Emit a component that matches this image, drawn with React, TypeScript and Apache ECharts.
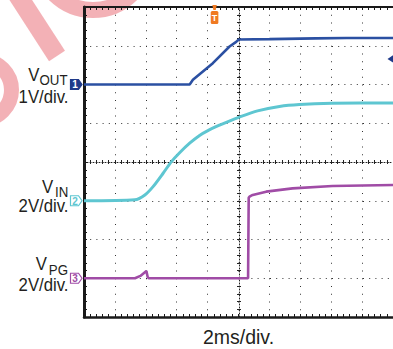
import React, { useEffect, useRef } from "react";
import * as echarts from "echarts";

// Time base: 2 ms/div, 10 divisions
const T_MIN_MS = 0;
const T_MAX_MS = 20;
const T_DIV_MS = 2;
// Vertical: 8 divisions
const DIV_MIN = 0;
const DIV_MAX = 8;

// VOUT, 1 V/div, ground marker at division 6
const VOUT_T_MS = [0, 6.84, 7.05, 8.34, 9.42, 9.85, 10.02, 12, 15, 17, 20];
const VOUT_V = [0, 0, 0.12, 0.55, 0.98, 1.1, 1.16, 1.17, 1.19, 1.2, 1.2];
const VOUT_SCALE = 1;
const VOUT_OFFSET_DIV = 6;

// VIN, 2 V/div, ground marker at division 3
const VIN_T_MS = [0, 3.29, 3.94, 4.47, 5.12, 5.66, 6.19, 6.84, 7.48, 8.02, 8.77, 9.21, 10.06, 11.23, 12.65, 13.94, 16.06, 20];
const VIN_V = [0, 0.05, 0.3, 0.73, 1.42, 2.02, 2.48, 2.97, 3.37, 3.62, 3.9, 4.05, 4.32, 4.64, 4.87, 4.97, 5.03, 5.05];
const VIN_SCALE = 2;
const VIN_OFFSET_DIV = 3;

// VPG, 2 V/div, ground marker at division 1
const VPG_T_MS = [0, 3.3, 3.65, 4.04, 4.12, 4.2, 10.62, 10.66, 10.71, 10.92, 11.79, 13.5, 16.08, 20];
const VPG_V = [0, 0, 0.12, 0.38, 0.06, 0, 0, 4.15, 4.21, 4.3, 4.47, 4.64, 4.76, 4.81];
const VPG_SCALE = 2;
const VPG_OFFSET_DIV = 1;

const TRIGGER_TIME_MS = 8.45;
const TRIGGER_LEVEL_V = 0.66; // on VOUT

const C_VOUT = "#2b50a2";
const C_VOUT_MARK = "#1f3a8a";
const C_VIN = "#5ec6d1";
const C_VPG = "#a04ca6";
const C_TRIG = "#f07a22";
const TEXT = "#231f20";
const FONT = '"Liberation Sans", Arial, Helvetica, sans-serif';
const PINK = "rgba(226,70,82,0.42)";

const toDivs = (t: number[], v: number[], scale: number, off: number) =>
  t.map((tt, i) => [tt, off + v[i] / scale]);

const GRID = { left: 84, top: 7, width: 310, height: 310 };

const axisCommon = {
  type: "value",
  axisLabel: { show: false },
  splitLine: { show: false },
};

const xAxisBase = { ...axisCommon, min: T_MIN_MS, max: T_MAX_MS, interval: T_DIV_MS };
const yAxisBase = { ...axisCommon, min: DIV_MIN, max: DIV_MAX, interval: 1 };

const BLACK = "#1a1a1a";

const option: any = {
  animation: false,
  backgroundColor: "#ffffff",
  grid: { ...GRID, containLabel: false, show: false },
  xAxis: [
    {
      ...xAxisBase,
      position: "bottom",
      axisLine: { show: true, onZero: false, lineStyle: { color: BLACK, width: 2.5 } },
      axisTick: { show: true, inside: true, length: 3, lineStyle: { color: BLACK, width: 1 } },
      minorTick: { show: true, splitNumber: 5, length: 3, lineStyle: { color: BLACK, width: 1 } },
      splitLine: { show: true, lineStyle: { color: "#333", width: 1, type: [1, 6.75] } },
    },
    {
      ...xAxisBase,
      position: "top",
      axisLine: { show: true, onZero: false, lineStyle: { color: BLACK, width: 2 } },
      axisTick: { show: true, inside: true, length: 3, lineStyle: { color: BLACK, width: 1 } },
      minorTick: { show: true, splitNumber: 5, length: 3, lineStyle: { color: BLACK, width: 1 } },
    },
    {
      ...xAxisBase,
      position: "bottom",
      offset: -GRID.height / 2,
      axisLine: { show: true, onZero: false, lineStyle: { color: "#222", width: 1, type: [1, 2] } },
      axisTick: { show: true, inside: false, length: 2, lineStyle: { color: "#222", width: 1 } },
      minorTick: { show: true, splitNumber: 5, length: 2, lineStyle: { color: "#222", width: 1 } },
    },
    {
      ...xAxisBase,
      position: "bottom",
      offset: -GRID.height / 2,
      axisLine: { show: false, onZero: false },
      axisTick: { show: true, inside: true, length: 2, lineStyle: { color: "#222", width: 1 } },
      minorTick: { show: true, splitNumber: 5, length: 2, lineStyle: { color: "#222", width: 1 } },
    },
  ],
  yAxis: [
    {
      ...yAxisBase,
      position: "left",
      axisLine: { show: true, onZero: false, lineStyle: { color: BLACK, width: 3 } },
      axisTick: { show: true, inside: true, length: 3, lineStyle: { color: BLACK, width: 1 } },
      minorTick: { show: true, splitNumber: 5, length: 3, lineStyle: { color: BLACK, width: 1 } },
      splitLine: { show: true, lineStyle: { color: "#333", width: 1, type: [1, 5.2] } },
    },
    {
      ...yAxisBase,
      position: "left",
      offset: -GRID.width / 2,
      axisLine: { show: true, onZero: false, lineStyle: { color: "#222", width: 1, type: [1, 2] } },
      axisTick: { show: true, inside: false, length: 2, lineStyle: { color: "#222", width: 1 } },
      minorTick: { show: true, splitNumber: 5, length: 2, lineStyle: { color: "#222", width: 1 } },
    },
    {
      ...yAxisBase,
      position: "left",
      offset: -GRID.width / 2,
      axisLine: { show: false, onZero: false },
      axisTick: { show: true, inside: true, length: 2, lineStyle: { color: "#222", width: 1 } },
      minorTick: { show: true, splitNumber: 5, length: 2, lineStyle: { color: "#222", width: 1 } },
    },
  ],
  series: [
    {
      name: "VOUT",
      type: "line",
      xAxisIndex: 0,
      yAxisIndex: 0,
      data: toDivs(VOUT_T_MS, VOUT_V, VOUT_SCALE, VOUT_OFFSET_DIV),
      showSymbol: false,
      symbol: "none",
      lineStyle: { color: C_VOUT, width: 2.6 },
      z: 5,
    },
    {
      name: "VIN",
      type: "line",
      xAxisIndex: 0,
      yAxisIndex: 0,
      data: toDivs(VIN_T_MS, VIN_V, VIN_SCALE, VIN_OFFSET_DIV),
      showSymbol: false,
      symbol: "none",
      smooth: 0.25,
      lineStyle: { color: C_VIN, width: 3 },
      z: 5,
    },
    {
      name: "VPG",
      type: "line",
      xAxisIndex: 0,
      yAxisIndex: 0,
      data: toDivs(VPG_T_MS, VPG_V, VPG_SCALE, VPG_OFFSET_DIV),
      showSymbol: false,
      symbol: "none",
      lineStyle: { color: C_VPG, width: 2.6 },
      z: 5,
    },
  ],
};

function txt(text: string, x: number, y: number, size: number, align: string, sx = 1, color = TEXT) {
  return {
    type: "text",
    x,
    y,
    scaleX: sx,
    z: 50,
    style: {
      text,
      fill: color,
      fontSize: size,
      fontFamily: FONT,
      align,
      textAlign: align,
      verticalAlign: "middle",
      textVerticalAlign: "middle",
    },
  };
}

function chMarker(label: string, cy: number, color: string, filled: boolean) {
  const x0 = 70.5;
  const x1 = 78.5;
  const x2 = 82;
  const h = 5;
  return [
    {
      type: "polygon",
      z: 60,
      shape: { points: [[x0, cy - h], [x1, cy - h], [x2, cy], [x1, cy + h], [x0, cy + h]] },
      style: { fill: filled ? color : "#ffffff", stroke: color, lineWidth: 1.2 },
    },
    {
      type: "text",
      x: 75,
      y: cy + 0.3,
      z: 61,
      style: {
        text: label,
        fill: filled ? "#ffffff" : color,
        fontSize: 10,
        fontWeight: "bold",
        fontFamily: FONT,
        align: "center",
        textAlign: "center",
        verticalAlign: "middle",
        textVerticalAlign: "middle",
      },
    },
  ];
}

export default function App() {
  const ref = useRef<HTMLDivElement>(null);
  useEffect(() => {
    const chart = echarts.init(ref.current!, null, { renderer: "svg" });
    chart.setOption(option);
    const px = (t: number, d: number) => chart.convertToPixel({ seriesIndex: 0 }, [t, d]) as number[];

    const yVout = px(0, VOUT_OFFSET_DIV)[1];
    const yVin = px(0, VIN_OFFSET_DIV)[1];
    const yVpg = px(0, VPG_OFFSET_DIV)[1];
    const xTrig = px(TRIGGER_TIME_MS, 0)[0];
    const yTrigLevel = px(0, VOUT_OFFSET_DIV + TRIGGER_LEVEL_V / VOUT_SCALE)[1];
    const [xCenter] = px((T_MIN_MS + T_MAX_MS) / 2, 0);

    const graphic: any[] = [
      // watermark
      { type: "line", z: 0, shape: { x1: 13, y1: -12, x2: 57, y2: 56 }, style: { stroke: PINK, lineWidth: 19 } },
      { type: "arc", z: 0, shape: { cx: 93, cy: -45, r: 55, startAngle: 0, endAngle: Math.PI }, style: { stroke: PINK, lineWidth: 16, fill: "none" } },
      { type: "arc", z: 0, shape: { cx: -18, cy: 90, r: 29.5, startAngle: -Math.PI / 2, endAngle: Math.PI / 2 }, style: { stroke: PINK, lineWidth: 15, fill: "none" } },
      // channel labels
      txt("V", 39.5, 75, 18, "right", 0.93),
      txt("OUT", 67.5, 80, 14, "right", 0.95),
      txt("1V/div.", 68.5, 96.5, 18, "right", 0.93),
      txt("V", 53.2, 187, 18, "right", 0.93),
      txt("IN", 68.4, 192, 14, "right", 0.95),
      txt("2V/div.", 68.5, 206, 18, "right", 0.93),
      txt("V", 46.8, 263.3, 18, "right", 0.93),
      txt("PG", 68, 270, 14, "right", 0.95),
      txt("2V/div.", 68.5, 284.5, 18, "right", 0.93),
      txt("2ms/div.", xCenter, 336.5, 19.5, "center"),
      // channel ground markers
      ...chMarker("1", yVout, C_VOUT_MARK, true),
      ...chMarker("2", yVin, C_VIN, false),
      ...chMarker("3", yVpg, C_VPG, false),
      // trigger position marker
      {
        type: "polygon",
        z: 60,
        shape: { points: [[xTrig - 2.2, 5], [xTrig + 2.2, 5], [xTrig + 1.2, 10], [xTrig - 1.2, 10]] },
        style: { fill: C_TRIG },
      },
      {
        type: "rect",
        z: 60,
        shape: { x: xTrig - 3.8, y: 11, width: 7.6, height: 13, r: 1.5 },
        style: { fill: C_TRIG },
      },
      {
        type: "text",
        x: xTrig,
        y: 17.8,
        z: 61,
        style: {
          text: "T",
          fill: "#ffffff",
          fontSize: 9,
          fontWeight: "bold",
          fontFamily: FONT,
          align: "center",
          textAlign: "center",
          verticalAlign: "middle",
          textVerticalAlign: "middle",
        },
      },
      // trigger level marker
      {
        type: "polygon",
        z: 60,
        shape: { points: [[387.5, yTrigLevel], [393, yTrigLevel - 3.6], [393, yTrigLevel + 3.6]] },
        style: { fill: C_VOUT_MARK },
      },
    ];
    chart.setOption({ graphic });
    return () => chart.dispose();
  }, []);
  return (
    <div
      ref={ref}
      style={{ position: "absolute", left: 0, top: 0, width: 393, height: 349, background: "#ffffff" }}
    />
  );
}
